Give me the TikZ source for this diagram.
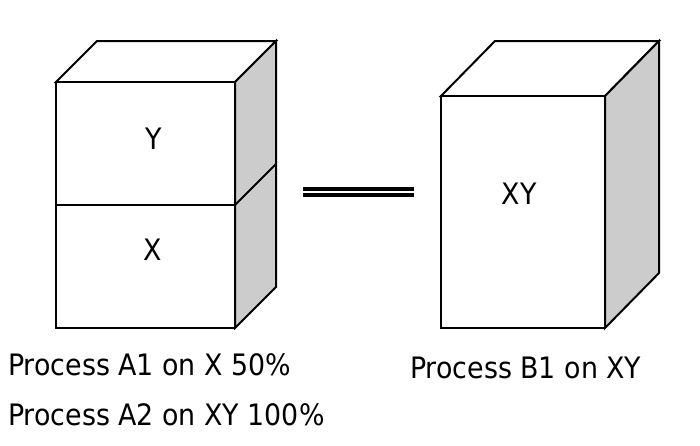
\documentclass[tikz,border=0pt]{standalone}
\usepackage{fontspec}
\setmainfont{DejaVu Sans}
\newcommand{\lbl}[1]{\scalebox{0.91}[1]{#1}}
\begin{document}
\begin{tikzpicture}[x=1pt,y=-1pt,
  edge/.style={draw=black,line width=2pt,line join=miter},
  side/.style={edge,fill=black!20},
  face/.style={edge,fill=white},
  txt/.style={inner sep=0pt,font=\fontsize{29.5pt}{34pt}\selectfont},
  eqbar/.style={line width=4pt}]
\useasboundingbox (0,0) rectangle (700,445);
% left stacked cube
\draw[face] (56,82) -- (97,41) -- (276,41) -- (235,82) -- cycle;
\draw[side] (235,82) -- (276,41) -- (276,287) -- (235,328) -- cycle;
\draw[edge] (235,205) -- (276,164);
\draw[face] (56,82) rectangle (235,328);
\draw[edge] (56,205) -- (235,205);
\node[txt] (y) at (154,139) {\lbl{Y}};
\node[txt] (x) at (153,250) {\lbl{X}};
% equals sign
\draw[eqbar] (303,188.7) -- (414,188.7);
\draw[eqbar] (303,194.7) -- (414,194.7);
% right cube
\draw[face] (441,96) -- (495,41) -- (659,41) -- (605,96) -- cycle;
\draw[side] (605,96) -- (659,41) -- (659,273) -- (605,328) -- cycle;
\draw[face] (441,96) rectangle (605,328);
\node[txt] (xy) at (519,194) {\lbl{XY}};
% captions
\node[txt,anchor=base west] (a1) at (8,375) {\lbl{Process A1 on X 50\%}};
\node[txt,anchor=base west] (a2) at (8,425) {\lbl{Process A2 on XY 100\%}};
\node[txt,anchor=base west] (b1) at (410,378) {\lbl{Process B1 on XY}};
\end{tikzpicture}
\end{document}
